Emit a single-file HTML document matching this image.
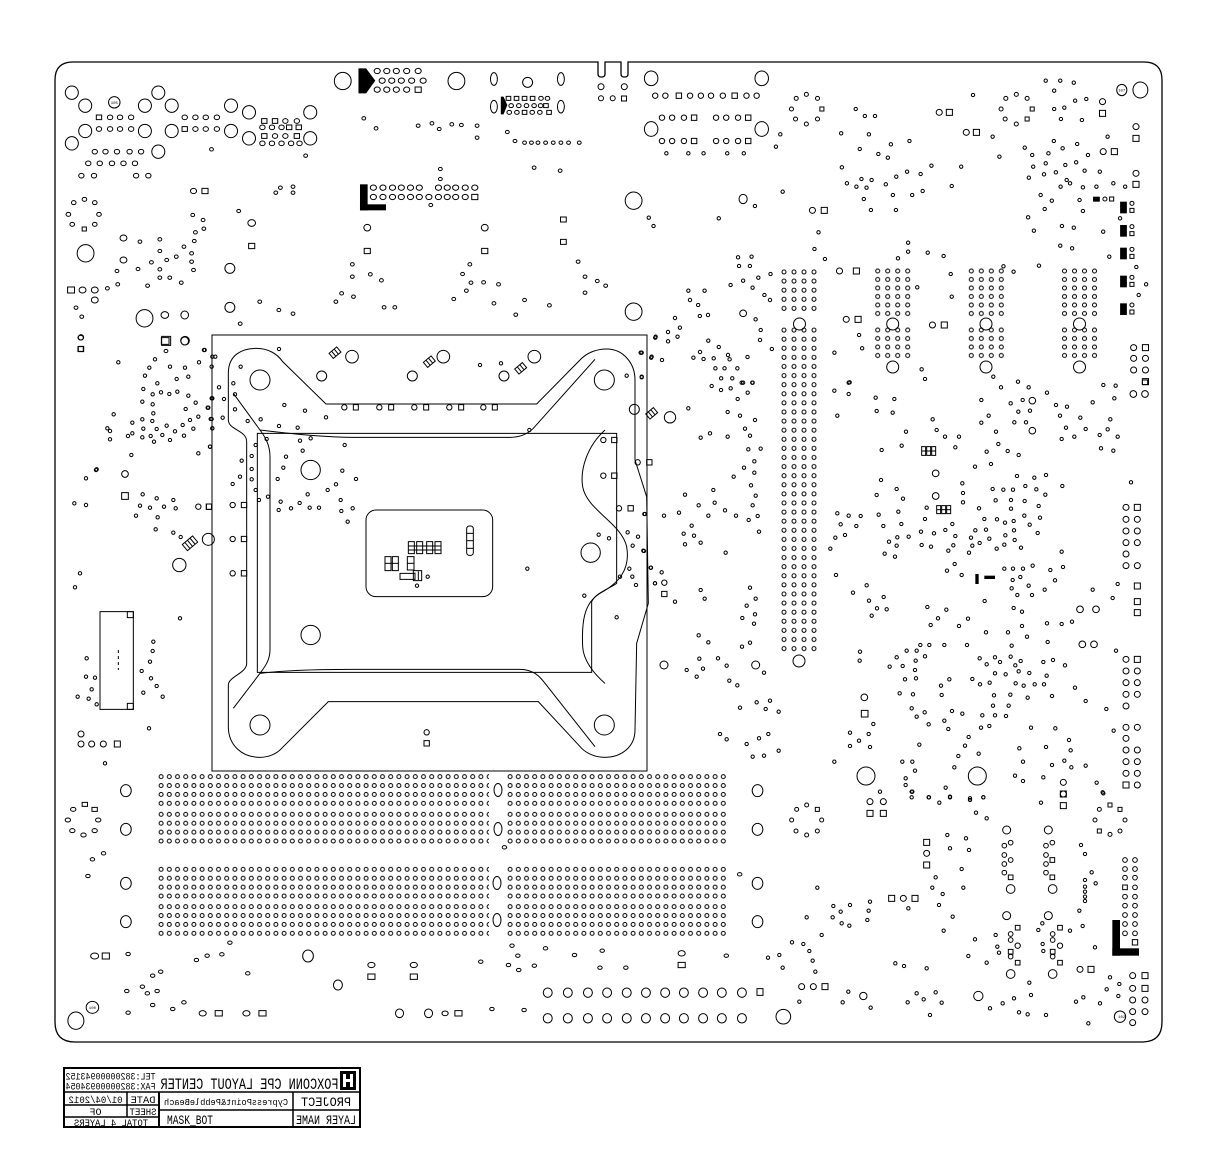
<!DOCTYPE html>
<html><head><meta charset="utf-8">
<style>
html,body{margin:0;padding:0;background:#fff}
svg{display:block}
svg *{vector-effect:non-scaling-stroke}
.k{fill:none;stroke:#000;stroke-width:1}
.k .f{fill:#000;stroke:none}
.k text{stroke:none;fill:#000;font-family:"Liberation Mono",monospace}
</style></head><body>
<svg width="1228" height="1169" viewBox="0 0 1228 1169" xmlns="http://www.w3.org/2000/svg">
<defs>
<pattern id="dm" patternUnits="userSpaceOnUse" width="8.2" height="8.9"><circle cx="4.1" cy="4.45" r="2" fill="none" stroke="#000" stroke-width="1"/></pattern>
<pattern id="cn" patternUnits="userSpaceOnUse" width="10" height="9.1"><circle cx="5" cy="4.55" r="2" fill="none" stroke="#000" stroke-width="1"/></pattern>
<pattern id="cm" patternUnits="userSpaceOnUse" width="10" height="8.5"><circle cx="5" cy="4.25" r="2" fill="none" stroke="#000" stroke-width="1"/></pattern>
</defs>
<rect width="1228" height="1169" fill="#fff"/>
<g class="k">
<!-- board outline -->
<path stroke-width="1.3" d="M55,80 Q55,62 73,62 L598,62 L598,74 Q598,77 601,77 L602,77 Q605,77 605,74 L605,62 L621,62 L621,74 Q621,77 624,77 L625,77 Q628,77 628,74 L628,62 L1144,62 Q1162,62 1162,80 L1162,1022 Q1162,1042 1142,1042 L75,1042 Q55,1042 55,1022 Z"/>
<!-- socket outer -->
<rect x="212" y="335" width="435" height="436"/>

<!-- DIMM slots -->
<g transform="translate(157,772.2)"><rect width="332" height="35.6" fill="url(#dm)" stroke="none"/></g>
<g transform="translate(506,772.2)"><rect width="221.4" height="35.6" fill="url(#dm)" stroke="none"/></g>
<g transform="translate(157,809.9)"><rect width="332" height="35.6" fill="url(#dm)" stroke="none"/></g>
<g transform="translate(506,809.9)"><rect width="221.4" height="35.6" fill="url(#dm)" stroke="none"/></g>
<g transform="translate(157,864.9)"><rect width="332" height="35.6" fill="url(#dm)" stroke="none"/></g>
<g transform="translate(506,864.9)"><rect width="221.4" height="35.6" fill="url(#dm)" stroke="none"/></g>
<g transform="translate(157,902.2)"><rect width="332" height="35.6" fill="url(#dm)" stroke="none"/></g>
<g transform="translate(506,902.2)"><rect width="221.4" height="35.6" fill="url(#dm)" stroke="none"/></g>
<ellipse cx="498" cy="790" rx="4" ry="6.5"/><ellipse cx="498" cy="829" rx="4" ry="6.5"/><ellipse cx="497" cy="883" rx="4" ry="6.5"/><ellipse cx="497" cy="920" rx="4" ry="6.5"/>

<!-- vertical strip connector -->
<g transform="translate(779,267.4)"><rect width="40" height="45.5" fill="url(#cn)" stroke="none"/></g>
<g transform="translate(779,325.5)"><rect width="40" height="327.6" fill="url(#cn)" stroke="none"/></g>
<circle cx="799.5" cy="324" r="6"/><circle cx="799" cy="661" r="6"/>
<!-- small arrays -->
<g transform="translate(872.7,266.75)"><rect width="40" height="51" fill="url(#cm)" stroke="none"/></g>
<g transform="translate(872.7,325.75)"><rect width="40" height="34" fill="url(#cm)" stroke="none"/></g>
<g transform="translate(966.3,266.75)"><rect width="40" height="51" fill="url(#cm)" stroke="none"/></g>
<g transform="translate(966.3,325.75)"><rect width="40" height="34" fill="url(#cm)" stroke="none"/></g>
<g transform="translate(1059.5,266.75)"><rect width="40" height="51" fill="url(#cm)" stroke="none"/></g>
<g transform="translate(1059.5,325.75)"><rect width="40" height="34" fill="url(#cm)" stroke="none"/></g>
<circle cx="892.7" cy="324" r="6"/><circle cx="892.7" cy="367" r="6"/>
<circle cx="986" cy="324" r="6"/><circle cx="986" cy="367" r="6"/>
<circle cx="1079.5" cy="324" r="6"/><circle cx="1079.5" cy="367" r="6"/>

<!-- ZOOM 2: socket region -->
<g transform="translate(200,330) scale(0.33333)">
<path d="M85,270 L85,130 C85,75 125,55 170,55 C205,55 232,72 248,95 L378,222 L1010,222 L1140,90 C1160,68 1190,57 1220,57 C1270,57 1305,100 1305,150 L1305,390 L1340,500 L1345,820 L1310,940 L1305,1200 C1305,1250 1265,1282 1215,1282 C1185,1282 1160,1270 1145,1255 L1015,1115 L385,1115 L245,1255 C230,1272 205,1282 180,1282 C125,1282 85,1245 85,1190 L85,1065 C85,1040 140,1030 140,1000 L140,335 C140,300 85,300 85,270 Z"/>
<path d="M100,190 L180,300 C195,320 210,345 210,380 L210,960 C210,990 195,1010 180,1030 L100,1135"/>
<path d="M180,300 C260,310 380,322 460,322 L930,322 C965,322 985,310 1000,295 L1185,88"/>
<path d="M180,1030 C260,1020 380,1018 450,1018 L960,1018 C1000,1018 1020,1040 1035,1060 L1185,1250"/>
<path d="M1215,300 C1160,350 1140,420 1148,470 C1160,540 1265,580 1280,650 C1292,720 1255,760 1200,790 C1150,820 1145,880 1148,950 C1150,990 1180,1030 1215,1060"/>
<path d="M172,310 L1250,310 L1250,760 C1230,775 1185,790 1175,815 L1175,1027 L172,1027 Z"/>
<rect x="498" y="540" width="380" height="260" rx="30"/>
<circle cx="180" cy="150" r="30"/><circle cx="1213" cy="150" r="30"/><circle cx="180" cy="1185" r="30"/><circle cx="1213" cy="1185" r="30"/>
<circle cx="332" cy="420" r="29"/><circle cx="332" cy="915" r="29"/><circle cx="1172" cy="668" r="29"/>
<circle cx="456" cy="80" r="19"/><circle cx="730" cy="80" r="19"/><circle cx="1003" cy="80" r="19"/>
<circle cx="365" cy="138" r="15"/><circle cx="637" cy="138" r="15"/><circle cx="912" cy="138" r="15"/><circle cx="1303" cy="238" r="15"/>
<circle cx="433" cy="232" r="8"/><rect x="460" y="224" width="15" height="16"/><circle cx="538" cy="232" r="8"/><rect x="566" y="224" width="15" height="16"/><circle cx="643" cy="232" r="8"/><rect x="671" y="224" width="15" height="16"/><circle cx="748" cy="232" r="8"/><rect x="776" y="224" width="15" height="16"/><circle cx="850" cy="232" r="8"/><rect x="877" y="224" width="15" height="16"/>
<circle cx="1210" cy="330" r="8"/><rect x="1235" y="322" width="16" height="16"/><circle cx="1210" cy="437" r="8"/><rect x="1235" y="429" width="16" height="16"/>
<circle cx="1313" cy="397" r="8"/><rect x="1340" y="389" width="16" height="16"/><circle cx="1257" cy="535" r="8"/><rect x="1284" y="527" width="16" height="16"/>
<circle cx="98" cy="525" r="8"/><rect x="124" y="517" width="16" height="16"/><circle cx="98" cy="627" r="8"/><rect x="124" y="619" width="16" height="16"/><circle cx="98" cy="730" r="8"/><rect x="124" y="722" width="16" height="16"/>
<rect x="19" y="522" width="16" height="16"/>
<circle cx="680" cy="1207" r="8"/><rect x="672" y="1232" width="16" height="16"/>
<g stroke-width="1"><rect x="625" y="635" width="18" height="36"/><rect x="650" y="635" width="18" height="36"/><rect x="680" y="635" width="18" height="36"/><rect x="705" y="635" width="18" height="36"/>
<line x1="625" y1="648" x2="723" y2="648"/><line x1="625" y1="660" x2="723" y2="660"/>
<rect x="555" y="680" width="18" height="42"/><rect x="577" y="680" width="18" height="42"/><line x1="555" y1="700" x2="595" y2="700"/>
<rect x="622" y="680" width="20" height="40"/><line x1="622" y1="700" x2="642" y2="700"/>
<rect x="600" y="730" width="45" height="18"/><rect x="640" y="722" width="25" height="30"/><line x1="645" y1="728" x2="645" y2="750"/><line x1="655" y1="724" x2="655" y2="750"/>
<rect x="800" y="588" width="20" height="88" rx="8"/><line x1="800" y1="610" x2="820" y2="610"/><line x1="800" y1="632" x2="820" y2="632"/><line x1="800" y1="655" x2="820" y2="655"/>
<g transform="rotate(-40 405 68)"><rect x="390" y="58" width="30" height="20"/><line x1="400" y1="58" x2="400" y2="78"/><line x1="410" y1="58" x2="410" y2="78"/></g>
<g transform="rotate(-40 688 95)"><rect x="673" y="85" width="30" height="20"/><line x1="683" y1="85" x2="683" y2="105"/><line x1="693" y1="85" x2="693" y2="105"/></g>
<g transform="rotate(-40 962 115)"><rect x="947" y="105" width="30" height="20"/><line x1="957" y1="105" x2="957" y2="125"/><line x1="967" y1="105" x2="967" y2="125"/></g>
<g transform="rotate(-40 1355 250)"><rect x="1340" y="240" width="30" height="20"/><line x1="1350" y1="240" x2="1350" y2="260"/><line x1="1360" y1="240" x2="1360" y2="260"/></g></g>
<circle cx="237" cy="57" r="5"/><circle cx="122" cy="110" r="5"/><circle cx="100" cy="160" r="5"/><circle cx="105" cy="193" r="5"/><circle cx="57" cy="172" r="5"/><circle cx="37" cy="205" r="5"/><circle cx="72" cy="207" r="5"/><circle cx="105" cy="238" r="5"/><circle cx="25" cy="233" r="5"/><circle cx="32" cy="267" r="5"/><circle cx="68" cy="263" r="5"/><circle cx="37" cy="295" r="5"/><circle cx="143" cy="273" r="5"/><circle cx="182" cy="268" r="5"/><circle cx="237" cy="288" r="5"/><circle cx="293" cy="293" r="5"/><circle cx="253" cy="225" r="5"/><circle cx="315" cy="242" r="5"/><circle cx="378" cy="262" r="5"/><circle cx="300" cy="332" r="5"/><circle cx="332" cy="325" r="5"/><circle cx="308" cy="362" r="5"/><circle cx="258" cy="380" r="5"/><circle cx="250" cy="413" r="5"/><circle cx="233" cy="447" r="5"/><circle cx="200" cy="327" r="5"/><circle cx="167" cy="345" r="5"/><circle cx="155" cy="378" r="5"/><circle cx="125" cy="392" r="5"/><circle cx="155" cy="417" r="5"/><circle cx="155" cy="448" r="5"/><circle cx="120" cy="440" r="5"/><circle cx="98" cy="462" r="5"/><circle cx="167" cy="480" r="5"/><circle cx="177" cy="510" r="5"/><circle cx="204" cy="500" r="5"/><circle cx="242" cy="515" r="5"/><circle cx="236" cy="540" r="5"/><circle cx="273" cy="535" r="5"/><circle cx="299" cy="519" r="5"/><circle cx="323" cy="493" r="5"/><circle cx="329" cy="533" r="5"/><circle cx="357" cy="533" r="5"/><circle cx="383" cy="480" r="5"/><circle cx="408" cy="463" r="5"/><circle cx="427" cy="422" r="5"/><circle cx="468" cy="447" r="5"/><circle cx="422" cy="510" r="5"/><circle cx="424" cy="543" r="5"/><circle cx="458" cy="535" r="5"/><circle cx="443" cy="575" r="5"/><circle cx="434" cy="345" r="5"/><circle cx="30" cy="350" r="5"/><circle cx="840" cy="105" r="5"/><circle cx="903" cy="100" r="5"/><circle cx="988" cy="300" r="5"/><circle cx="1280" cy="137" r="5"/><circle cx="1322" cy="68" r="5"/><circle cx="1325" cy="142" r="5"/><circle cx="1355" cy="80" r="5"/><circle cx="1367" cy="20" r="5"/><circle cx="1335" cy="552" r="5"/><circle cx="1283" cy="607" r="5"/><circle cx="1314" cy="620" r="5"/><circle cx="1298" cy="647" r="5"/><circle cx="1330" cy="662" r="5"/><circle cx="1288" cy="716" r="5"/><circle cx="1352" cy="713" r="5"/><circle cx="1297" cy="740" r="5"/><circle cx="1308" cy="765" r="5"/><circle cx="1365" cy="760" r="5"/><circle cx="1260" cy="740" r="5"/><circle cx="1196" cy="614" r="5"/><circle cx="1227" cy="625" r="5"/><circle cx="1153" cy="797" r="5"/><circle cx="1250" cy="862" r="5"/><circle cx="982" cy="716" r="5"/><circle cx="683" cy="740" r="5"/><circle cx="651" cy="767" r="5"/><circle cx="14" cy="60" r="5"/><circle cx="46" cy="80" r="5"/>
</g>

<!-- ZOOM 3: top-left -->
<g transform="translate(50,55) scale(0.3827,0.33333)">
<ellipse cx="57" cy="113" rx="17" ry="20"/><ellipse cx="92" cy="152" rx="17" ry="20"/><ellipse cx="57" cy="265" rx="17" ry="20"/><ellipse cx="92" cy="228" rx="17" ry="20"/><ellipse cx="248" cy="152" rx="17" ry="20"/><ellipse cx="283" cy="113" rx="17" ry="20"/><ellipse cx="318" cy="152" rx="17" ry="20"/><ellipse cx="248" cy="228" rx="17" ry="20"/><ellipse cx="318" cy="228" rx="17" ry="20"/><ellipse cx="283" cy="290" rx="17" ry="20"/><ellipse cx="473" cy="152" rx="17" ry="20"/><ellipse cx="520" cy="172" rx="17" ry="20"/><ellipse cx="473" cy="228" rx="17" ry="20"/><ellipse cx="520" cy="250" rx="17" ry="20"/><ellipse cx="680" cy="172" rx="17" ry="20"/><ellipse cx="680" cy="250" rx="17" ry="20"/>
<ellipse cx="765" cy="78" rx="22" ry="26"/><ellipse cx="1062" cy="78" rx="22" ry="26"/><ellipse cx="1525" cy="437" rx="22" ry="26"/><ellipse cx="1525" cy="770" rx="22" ry="26"/><ellipse cx="93" cy="595" rx="22" ry="26"/><ellipse cx="247" cy="790" rx="22" ry="26"/>
<ellipse cx="470" cy="640" rx="13" ry="15"/><ellipse cx="470" cy="757" rx="13" ry="15"/><ellipse cx="1248" cy="82" rx="13" ry="15"/><ellipse cx="527" cy="504" rx="10" ry="10"/><ellipse cx="829" cy="518" rx="9" ry="10"/><ellipse cx="1136" cy="518" rx="9" ry="10"/><ellipse cx="192" cy="549" rx="9" ry="9"/><ellipse cx="192" cy="615" rx="9" ry="9"/><ellipse cx="352" cy="780" rx="10" ry="12"/><ellipse cx="300" cy="780" rx="10" ry="10"/><ellipse cx="352" cy="858" rx="10" ry="12"/>
<ellipse cx="168" cy="142" rx="15" ry="17"/>
<ellipse cx="1160" cy="72" rx="9" ry="19"/><ellipse cx="1335" cy="72" rx="9" ry="19"/><ellipse cx="1160" cy="155" rx="9" ry="19"/><ellipse cx="1335" cy="155" rx="9" ry="19"/>
<polygon class="f" points="806,40 826,40 850,77 826,115 806,115"/>
<polygon class="f" points="1178,125 1185,125 1195,150 1185,178 1178,178"/>
<rect class="f" x="810" y="388" width="20" height="78"/><rect class="f" x="810" y="448" width="68" height="18"/>
<rect x="121" y="180" width="14" height="14"/><circle cx="157" cy="187" r="7"/><circle cx="183" cy="187" r="7"/><circle cx="212" cy="187" r="7"/><circle cx="352" cy="187" r="7"/><circle cx="380" cy="187" r="7"/><circle cx="407" cy="187" r="7"/><circle cx="436" cy="187" r="7"/>
<circle cx="128" cy="222" r="7"/><circle cx="157" cy="222" r="7"/><circle cx="183" cy="222" r="7"/><circle cx="212" cy="222" r="7"/><rect x="345" y="215" width="14" height="14"/><circle cx="380" cy="222" r="7"/><circle cx="407" cy="222" r="7"/><circle cx="436" cy="222" r="7"/>
<circle cx="117" cy="290" r="7"/><circle cx="145" cy="290" r="7"/><circle cx="175" cy="290" r="7"/><circle cx="208" cy="290" r="7"/><circle cx="238" cy="290" r="7"/>
<circle cx="100" cy="325" r="7"/><circle cx="130" cy="325" r="7"/><circle cx="162" cy="325" r="7"/><circle cx="192" cy="325" r="7"/><circle cx="222" cy="325" r="7"/>
<circle cx="82" cy="362" r="7"/><circle cx="115" cy="362" r="7"/><circle cx="225" cy="362" r="7"/><circle cx="257" cy="362" r="7"/>
<rect x="553" y="191" width="14" height="14"/><rect x="581" y="191" width="14" height="14"/><circle cx="615" cy="198" r="7"/><circle cx="645" cy="198" r="7"/>
<circle cx="555" cy="217" r="7"/><circle cx="580" cy="217" r="7"/><circle cx="605" cy="217" r="7"/><rect x="618" y="210" width="14" height="14"/><rect x="643" y="210" width="14" height="14"/>
<rect x="553" y="236" width="14" height="14"/><circle cx="588" cy="243" r="7"/><circle cx="615" cy="243" r="7"/><rect x="638" y="236" width="14" height="14"/>
<circle cx="555" cy="265" r="7"/><circle cx="580" cy="265" r="7"/><circle cx="605" cy="265" r="7"/><circle cx="630" cy="265" r="7"/><circle cx="652" cy="265" r="7"/>
<circle cx="855" cy="48" r="8"/><circle cx="880" cy="48" r="8"/><circle cx="905" cy="48" r="8"/><circle cx="932" cy="48" r="8"/><circle cx="962" cy="48" r="8"/>
<circle cx="868" cy="77" r="8"/><circle cx="893" cy="77" r="8"/><circle cx="918" cy="77" r="8"/><circle cx="945" cy="77" r="8"/><circle cx="975" cy="77" r="8"/>
<circle cx="855" cy="104" r="8"/><circle cx="880" cy="104" r="8"/><circle cx="905" cy="104" r="8"/><circle cx="932" cy="104" r="8"/><rect x="954" y="96" width="16" height="16"/>
<rect x="1192" y="124" width="12" height="12"/><rect x="1213" y="124" width="12" height="12"/><rect x="1234" y="124" width="12" height="12"/><rect x="1255" y="124" width="12" height="12"/><circle cx="1283" cy="130" r="6"/><circle cx="1300" cy="130" r="6"/>
<circle cx="1205" cy="152" r="6"/><circle cx="1225" cy="152" r="6"/><circle cx="1245" cy="152" r="6"/><circle cx="1265" cy="152" r="6"/><circle cx="1282" cy="152" r="6"/><rect x="1290" y="146" width="12" height="12"/>
<circle cx="1200" cy="172" r="6"/><circle cx="1220" cy="172" r="6"/><rect x="1234" y="166" width="12" height="12"/><circle cx="1260" cy="172" r="6"/><circle cx="1280" cy="172" r="6"/><rect x="1298" y="166" width="12" height="12"/>
<circle cx="845" cy="398" r="8"/><circle cx="870" cy="398" r="8"/><circle cx="895" cy="398" r="8"/><circle cx="918" cy="398" r="8"/><circle cx="942" cy="398" r="8"/><circle cx="965" cy="398" r="8"/><circle cx="1015" cy="398" r="8"/><circle cx="1038" cy="398" r="8"/><circle cx="1060" cy="398" r="8"/><circle cx="1085" cy="398" r="8"/><circle cx="1110" cy="398" r="8"/>
<circle cx="845" cy="426" r="8"/><circle cx="870" cy="426" r="8"/><circle cx="895" cy="426" r="8"/><circle cx="918" cy="426" r="8"/><circle cx="942" cy="426" r="8"/><circle cx="965" cy="426" r="8"/><circle cx="990" cy="426" r="8"/><circle cx="1015" cy="426" r="8"/><circle cx="1038" cy="426" r="8"/><circle cx="1060" cy="426" r="8"/><circle cx="1085" cy="426" r="8"/><rect x="1102" y="418" width="16" height="16"/>
<circle cx="375" cy="408" r="8"/><rect x="397" y="400" width="16" height="16"/>
<rect x="1334" y="486" width="15" height="15"/><rect x="1334" y="553" width="15" height="15"/><rect x="519" y="565" width="16" height="16"/><rect x="821" y="580" width="16" height="16"/><rect x="1128" y="580" width="16" height="16"/>
<rect x="46" y="696" width="18" height="18"/><circle cx="85" cy="705" r="9"/><circle cx="117" cy="705" r="9"/><circle cx="117" cy="735" r="9"/>
<rect x="291" y="848" width="20" height="20"/><circle cx="80" cy="848" r="7"/><rect x="73" y="875" width="14" height="14"/>
<circle cx="62" cy="443" r="6"/><circle cx="90" cy="433" r="6"/><circle cx="117" cy="443" r="6"/><circle cx="128" cy="478" r="6"/><circle cx="117" cy="508" r="6"/><rect x="84" y="516" width="11" height="12"/><circle cx="58" cy="508" r="6"/><circle cx="48" cy="478" r="6"/>
<circle cx="820" cy="190" r="5"/><circle cx="852" cy="220" r="5"/><circle cx="962" cy="212" r="5"/><circle cx="998" cy="205" r="5"/><circle cx="1017" cy="222" r="5"/><circle cx="1050" cy="208" r="5"/><circle cx="1075" cy="210" r="5"/><circle cx="1116" cy="212" r="5"/><circle cx="1116" cy="248" r="5"/><circle cx="1195" cy="231" r="5"/><circle cx="1215" cy="258" r="5"/><circle cx="1240" cy="263" r="5"/><circle cx="1258" cy="263" r="5"/><circle cx="1275" cy="263" r="5"/><circle cx="1295" cy="263" r="5"/><circle cx="1315" cy="263" r="5"/><circle cx="1335" cy="263" r="5"/><circle cx="1355" cy="263" r="5"/><circle cx="1383" cy="263" r="5"/><circle cx="1265" cy="338" r="5"/><circle cx="1333" cy="347" r="5"/><circle cx="422" cy="283" r="5"/><circle cx="668" cy="302" r="5"/><circle cx="602" cy="398" r="5"/><circle cx="590" cy="413" r="5"/><circle cx="635" cy="395" r="5"/><circle cx="635" cy="413" r="5"/><circle cx="995" cy="450" r="5"/><circle cx="1020" cy="342" r="5"/><circle cx="1020" cy="372" r="5"/>
<circle cx="493" cy="468" r="5"/><circle cx="373" cy="480" r="5"/><circle cx="400" cy="495" r="5"/><circle cx="380" cy="532" r="5"/><circle cx="402" cy="521" r="5"/><circle cx="377" cy="558" r="5"/><circle cx="350" cy="575" r="5"/><circle cx="370" cy="595" r="5"/><circle cx="370" cy="620" r="5"/><circle cx="375" cy="645" r="5"/><circle cx="330" cy="605" r="5"/><circle cx="305" cy="615" r="5"/><circle cx="265" cy="622" r="5"/><circle cx="287" cy="588" r="5"/><circle cx="287" cy="553" r="5"/><circle cx="235" cy="560" r="5"/><circle cx="230" cy="642" r="5"/><circle cx="175" cy="648" r="5"/><circle cx="177" cy="688" r="5"/><circle cx="150" cy="700" r="5"/><circle cx="287" cy="643" r="5"/><circle cx="287" cy="668" r="5"/><circle cx="313" cy="668" r="5"/><circle cx="343" cy="683" r="5"/><circle cx="255" cy="692" r="5"/><circle cx="68" cy="758" r="5"/><circle cx="83" cy="785" r="5"/><circle cx="548" cy="740" r="5"/><circle cx="598" cy="765" r="5"/><circle cx="635" cy="776" r="5"/><circle cx="497" cy="806" r="5"/><circle cx="790" cy="628" r="5"/><circle cx="790" cy="665" r="5"/><circle cx="837" cy="658" r="5"/><circle cx="866" cy="676" r="5"/><circle cx="762" cy="715" r="5"/><circle cx="747" cy="740" r="5"/><circle cx="793" cy="725" r="5"/><circle cx="873" cy="757" r="5"/><circle cx="901" cy="757" r="5"/><circle cx="1097" cy="628" r="5"/><circle cx="1078" cy="657" r="5"/><circle cx="1100" cy="683" r="5"/><circle cx="1133" cy="682" r="5"/><circle cx="1172" cy="688" r="5"/><circle cx="1088" cy="707" r="5"/><circle cx="1055" cy="732" r="5"/><circle cx="1160" cy="745" r="5"/><circle cx="1240" cy="735" r="5"/><circle cx="1217" cy="779" r="5"/><circle cx="1305" cy="751" r="5"/><circle cx="1380" cy="620" r="5"/><circle cx="1398" cy="665" r="5"/><circle cx="1430" cy="678" r="5"/><circle cx="1452" cy="692" r="5"/><circle cx="1398" cy="713" r="5"/><circle cx="303" cy="888" r="5"/><circle cx="403" cy="885" r="5"/>
</g>
<text x="114.3" y="104" font-size="4" text-anchor="middle">105</text>

<!-- ZOOM 4: top-right -->
<g transform="translate(640,55) scale(0.3381,0.33333)">
<ellipse cx="33" cy="70" rx="20" ry="22"/><ellipse cx="360" cy="70" rx="20" ry="22"/><ellipse cx="33" cy="222" rx="20" ry="22"/><ellipse cx="360" cy="222" rx="20" ry="22"/><ellipse cx="1480" cy="105" rx="22" ry="24"/><ellipse cx="1425" cy="105" rx="15" ry="17"/>
<circle cx="45" cy="122" r="8"/><circle cx="75" cy="122" r="8"/><rect x="107" y="114" width="16" height="16"/><circle cx="148" cy="122" r="8"/><circle cx="180" cy="122" r="8"/><circle cx="210" cy="122" r="8"/><circle cx="245" cy="122" r="8"/><rect x="272" y="114" width="16" height="16"/><circle cx="315" cy="122" r="8"/><circle cx="345" cy="122" r="8"/>
<circle cx="65" cy="188" r="8"/><circle cx="95" cy="188" r="8"/><circle cx="130" cy="188" r="8"/><rect x="152" y="180" width="16" height="16"/><circle cx="225" cy="188" r="8"/><circle cx="255" cy="188" r="8"/><circle cx="290" cy="188" r="8"/><rect x="312" y="180" width="16" height="16"/>
<circle cx="65" cy="258" r="8"/><circle cx="95" cy="258" r="8"/><circle cx="130" cy="258" r="8"/><rect x="152" y="250" width="16" height="16"/><circle cx="225" cy="258" r="8"/><circle cx="255" cy="258" r="8"/><circle cx="290" cy="258" r="8"/><rect x="312" y="250" width="16" height="16"/>
<circle cx="78" cy="295" r="5"/><circle cx="143" cy="295" r="5"/><circle cx="188" cy="295" r="5"/><circle cx="258" cy="295" r="5"/><circle cx="307" cy="295" r="5"/>
<circle cx="462" cy="130" r="6"/><circle cx="492" cy="118" r="6"/><circle cx="525" cy="130" r="6"/><rect x="532" y="156" width="12" height="12"/><circle cx="525" cy="192" r="6"/><circle cx="492" cy="207" r="6"/><circle cx="460" cy="192" r="6"/><circle cx="448" cy="162" r="6"/>
<circle cx="1082" cy="130" r="6"/><circle cx="1113" cy="118" r="6"/><circle cx="1145" cy="130" r="6"/><rect x="1154" y="156" width="12" height="12"/><rect x="1139" y="186" width="12" height="12"/><circle cx="1113" cy="207" r="6"/><circle cx="1080" cy="192" r="6"/><circle cx="1068" cy="162" r="6"/>
<circle cx="885" cy="172" r="9"/><rect x="906" y="163" width="18" height="18"/><circle cx="965" cy="232" r="9"/><rect x="986" y="223" width="18" height="18"/>
<circle cx="1368" cy="140" r="9"/><rect x="1359" y="166" width="18" height="18"/><circle cx="1370" cy="290" r="9"/><rect x="1394" y="281" width="18" height="18"/>
<circle cx="1467" cy="215" r="9"/><rect x="1458" y="241" width="18" height="18"/><circle cx="1467" cy="355" r="9"/><rect x="1458" y="379" width="18" height="18"/>
<circle cx="510" cy="466" r="9"/><rect x="536" y="457" width="18" height="18"/><circle cx="590" cy="648" r="9"/><rect x="631" y="639" width="18" height="18"/><circle cx="610" cy="793" r="9"/><rect x="636" y="784" width="18" height="18"/><circle cx="865" cy="810" r="9"/><rect x="891" y="801" width="18" height="18"/>
<ellipse cx="305" cy="432" rx="12" ry="14"/><ellipse cx="305" cy="775" rx="10" ry="10"/>
<circle cx="1460" cy="878" r="9"/><rect x="1486" y="869" width="18" height="18"/><circle cx="1460" cy="910" r="9"/><circle cx="1495" cy="910" r="9"/><circle cx="1460" cy="945" r="9"/><circle cx="1495" cy="945" r="9"/><rect x="1486" y="971" width="18" height="18"/>
<rect class="f" x="1420" y="440" width="20" height="35"/><rect class="f" x="1420" y="510" width="20" height="35"/><rect class="f" x="1420" y="578" width="20" height="35"/><rect class="f" x="1420" y="662" width="20" height="35"/><rect class="f" x="1420" y="745" width="20" height="35"/>
<circle cx="1455" cy="445" r="6"/><rect x="1449" y="460" width="12" height="12"/><circle cx="1455" cy="515" r="6"/><rect x="1449" y="530" width="12" height="12"/><circle cx="1455" cy="583" r="6"/><rect x="1449" y="598" width="12" height="12"/><circle cx="1455" cy="667" r="6"/><rect x="1449" y="682" width="12" height="12"/><circle cx="1455" cy="750" r="6"/><rect x="1449" y="765" width="12" height="12"/>
<rect class="f" x="1340" y="425" width="20" height="15"/><circle cx="1375" cy="432" r="6"/><rect x="1389" y="426" width="12" height="12"/>
<circle cx="985" cy="120" r="5"/><circle cx="1200" cy="77" r="5"/><circle cx="1243" cy="77" r="5"/><circle cx="1283" cy="83" r="5"/><circle cx="1225" cy="107" r="5"/><circle cx="1287" cy="137" r="5"/><circle cx="1320" cy="132" r="5"/><circle cx="1225" cy="162" r="5"/><circle cx="1255" cy="158" r="5"/><circle cx="1245" cy="192" r="5"/><circle cx="1307" cy="195" r="5"/><circle cx="1383" cy="245" r="5"/><circle cx="1224" cy="258" r="5"/><circle cx="1250" cy="280" r="5"/><circle cx="1293" cy="267" r="5"/><circle cx="1325" cy="300" r="5"/><circle cx="1138" cy="278" r="5"/><circle cx="1160" cy="300" r="5"/><circle cx="1208" cy="295" r="5"/><circle cx="1063" cy="305" r="5"/><circle cx="1043" cy="245" r="5"/><circle cx="1163" cy="335" r="5"/><circle cx="1200" cy="325" r="5"/><circle cx="1258" cy="330" r="5"/><circle cx="1290" cy="322" r="5"/><circle cx="1150" cy="368" r="5"/><circle cx="1195" cy="358" r="5"/><circle cx="1230" cy="352" r="5"/><circle cx="1315" cy="347" r="5"/><circle cx="1360" cy="350" r="5"/><circle cx="1244" cy="395" r="5"/><circle cx="1262" cy="375" r="5"/><circle cx="1272" cy="385" r="5"/><circle cx="1310" cy="397" r="5"/><circle cx="1350" cy="395" r="5"/><circle cx="1400" cy="385" r="5"/><circle cx="1435" cy="395" r="5"/><circle cx="1185" cy="420" r="5"/><circle cx="1218" cy="437" r="5"/><circle cx="1300" cy="435" r="5"/><circle cx="1197" cy="462" r="5"/><circle cx="1148" cy="487" r="5"/><circle cx="1310" cy="468" r="5"/><circle cx="1165" cy="527" r="5"/><circle cx="1248" cy="513" r="5"/><circle cx="1283" cy="518" r="5"/><circle cx="1370" cy="530" r="5"/><circle cx="1243" cy="572" r="5"/><circle cx="1278" cy="580" r="5"/><circle cx="1388" cy="605" r="5"/><circle cx="1420" cy="490" r="5"/><circle cx="1468" cy="636" r="5"/><circle cx="1497" cy="688" r="5"/><circle cx="1475" cy="720" r="5"/><circle cx="1105" cy="650" r="5"/><circle cx="1180" cy="632" r="5"/><circle cx="1075" cy="634" r="5"/>
<circle cx="638" cy="162" r="5"/><circle cx="665" cy="183" r="5"/><circle cx="695" cy="183" r="5"/><circle cx="595" cy="235" r="5"/><circle cx="677" cy="238" r="5"/><circle cx="650" cy="282" r="5"/><circle cx="705" cy="297" r="5"/><circle cx="733" cy="308" r="5"/><circle cx="742" cy="268" r="5"/><circle cx="797" cy="258" r="5"/><circle cx="415" cy="238" r="5"/><circle cx="402" cy="275" r="5"/><circle cx="597" cy="337" r="5"/><circle cx="862" cy="332" r="5"/><circle cx="950" cy="335" r="5"/><circle cx="830" cy="357" r="5"/><circle cx="790" cy="350" r="5"/><circle cx="758" cy="365" r="5"/><circle cx="727" cy="388" r="5"/><circle cx="685" cy="375" r="5"/><circle cx="655" cy="372" r="5"/><circle cx="640" cy="395" r="5"/><circle cx="612" cy="385" r="5"/><circle cx="670" cy="398" r="5"/><circle cx="662" cy="432" r="5"/><circle cx="748" cy="420" r="5"/><circle cx="805" cy="420" r="5"/><circle cx="836" cy="408" r="5"/><circle cx="683" cy="465" r="5"/><circle cx="757" cy="465" r="5"/><circle cx="922" cy="393" r="5"/><circle cx="422" cy="410" r="5"/><circle cx="528" cy="532" r="5"/><circle cx="516" cy="582" r="5"/><circle cx="547" cy="612" r="5"/><circle cx="793" cy="563" r="5"/><circle cx="793" cy="590" r="5"/><circle cx="763" cy="610" r="5"/><circle cx="851" cy="593" r="5"/><circle cx="898" cy="603" r="5"/><circle cx="919" cy="657" r="5"/><circle cx="922" cy="725" r="5"/><circle cx="820" cy="697" r="5"/><circle cx="1045" cy="965" r="5"/><circle cx="1118" cy="980" r="5"/><circle cx="833" cy="943" r="5"/><circle cx="843" cy="972" r="5"/><circle cx="620" cy="982" r="5"/>
<circle cx="340" cy="453" r="5"/><circle cx="26" cy="488" r="5"/><circle cx="40" cy="513" r="5"/><circle cx="233" cy="490" r="5"/><circle cx="290" cy="607" r="5"/><circle cx="330" cy="605" r="5"/><circle cx="293" cy="633" r="5"/><circle cx="325" cy="633" r="5"/><circle cx="386" cy="657" r="5"/><circle cx="350" cy="668" r="5"/><circle cx="305" cy="677" r="5"/><circle cx="268" cy="690" r="5"/><circle cx="333" cy="698" r="5"/><circle cx="368" cy="720" r="5"/><circle cx="143" cy="707" r="5"/><circle cx="191" cy="707" r="5"/><circle cx="172" cy="750" r="5"/><circle cx="177" cy="783" r="5"/><circle cx="118" cy="818" r="5"/><circle cx="111" cy="845" r="5"/><circle cx="83" cy="859" r="5"/><circle cx="45" cy="848" r="5"/><circle cx="202" cy="857" r="5"/><circle cx="233" cy="876" r="5"/><circle cx="158" cy="908" r="5"/><circle cx="188" cy="912" r="5"/><circle cx="218" cy="910" r="5"/><circle cx="265" cy="913" r="5"/><circle cx="318" cy="906" r="5"/><circle cx="223" cy="940" r="5"/><circle cx="250" cy="940" r="5"/><circle cx="288" cy="940" r="5"/><circle cx="240" cy="970" r="5"/><circle cx="273" cy="970" r="5"/><circle cx="305" cy="983" r="5"/><circle cx="332" cy="983" r="5"/><circle cx="342" cy="793" r="5"/><circle cx="357" cy="825" r="5"/><circle cx="390" cy="882" r="5"/><circle cx="575" cy="893" r="5"/><circle cx="657" cy="880" r="5"/><circle cx="648" cy="840" r="5"/><circle cx="33" cy="908" r="5"/><circle cx="65" cy="915" r="5"/><circle cx="5" cy="893" r="5"/><circle cx="5" cy="965" r="5"/>
</g>
<text x="1121.7" y="91.5" font-size="4" text-anchor="middle">107</text>
<!-- notch area -->
<circle cx="601" cy="86.7" r="3"/><circle cx="624.3" cy="86.7" r="3"/><circle cx="601" cy="98.3" r="2.5"/><circle cx="612.7" cy="98.3" r="2.5"/><rect x="621.5" y="96" width="5" height="5"/>

<!-- ZOOM 6: right-middle -->
<g transform="translate(740,380) scale(0.33333)">
<circle cx="378" cy="1188" r="27"/><circle cx="712" cy="1188" r="27"/><circle cx="47" cy="855" r="12"/>
<circle cx="587" cy="280" r="10"/><circle cx="587" cy="348" r="10"/><circle cx="877" cy="62" r="10"/><circle cx="877" cy="152" r="10"/><circle cx="1180" cy="42" r="10"/><circle cx="1215" cy="42" r="10"/><circle cx="1020" cy="688" r="10"/><circle cx="1068" cy="688" r="10"/><circle cx="1027" cy="793" r="10"/><circle cx="1062" cy="793" r="10"/><circle cx="373" cy="952" r="10"/><rect x="364" y="991" width="20" height="20"/><circle cx="970" cy="1207" r="9"/><rect x="961" y="1233" width="18" height="18"/><rect x="1207" y="0" width="16" height="14"/>
<circle cx="1158" cy="382" r="9"/><rect x="1183" y="373" width="18" height="18"/><circle cx="1158" cy="418" r="9"/><circle cx="1192" cy="418" r="9"/><circle cx="1158" cy="453" r="9"/><circle cx="1192" cy="453" r="9"/><circle cx="1158" cy="488" r="9"/><circle cx="1192" cy="488" r="9"/><circle cx="1158" cy="522" r="9"/><circle cx="1158" cy="557" r="9"/><circle cx="1192" cy="557" r="9"/><rect x="1183" y="609" width="18" height="18"/><rect x="1183" y="656" width="18" height="18"/><rect x="1183" y="689" width="18" height="18"/>
<circle cx="1158" cy="838" r="9"/><rect x="1183" y="829" width="18" height="18"/><circle cx="1158" cy="873" r="9"/><circle cx="1192" cy="873" r="9"/><circle cx="1158" cy="908" r="9"/><circle cx="1192" cy="908" r="9"/><circle cx="1158" cy="943" r="9"/><circle cx="1192" cy="943" r="9"/><circle cx="1158" cy="978" r="9"/>
<circle cx="1158" cy="1042" r="9"/><circle cx="1192" cy="1042" r="9"/><circle cx="1158" cy="1075" r="9"/><circle cx="1158" cy="1110" r="9"/><circle cx="1192" cy="1110" r="9"/><circle cx="1158" cy="1145" r="9"/><circle cx="1192" cy="1145" r="9"/><circle cx="1158" cy="1180" r="9"/><circle cx="1192" cy="1180" r="9"/><rect x="1149" y="1206" width="18" height="18"/><circle cx="1192" cy="1215" r="9"/>
<rect x="545" y="200" width="12" height="26"/><rect x="560" y="200" width="12" height="26"/><rect x="575" y="200" width="12" height="26"/><line x1="545" y1="213" x2="587" y2="213"/>
<rect x="590" y="377" width="12" height="24"/><rect x="605" y="377" width="12" height="24"/><rect x="620" y="377" width="12" height="24"/><line x1="590" y1="389" x2="632" y2="389"/>
<rect class="f" x="706" y="582" width="10" height="30"/><rect class="f" x="733" y="587" width="32" height="10"/>
<circle cx="283" cy="32" r="5"/><circle cx="326" cy="8" r="5"/><circle cx="326" cy="42" r="5"/><circle cx="292" cy="107" r="5"/><circle cx="407" cy="53" r="5"/><circle cx="463" cy="57" r="5"/><circle cx="410" cy="93" r="5"/><circle cx="458" cy="98" r="5"/><circle cx="498" cy="155" r="5"/><circle cx="485" cy="197" r="5"/><circle cx="425" cy="210" r="5"/><circle cx="578" cy="118" r="5"/><circle cx="590" cy="150" r="5"/><circle cx="615" cy="170" r="5"/><circle cx="657" cy="170" r="5"/><circle cx="646" cy="202" r="5"/><circle cx="724" cy="60" r="5"/><circle cx="746" cy="107" r="5"/><circle cx="724" cy="128" r="5"/><circle cx="768" cy="155" r="5"/><circle cx="775" cy="192" r="5"/><circle cx="803" cy="213" r="5"/><circle cx="836" cy="225" r="5"/><circle cx="740" cy="215" r="5"/><circle cx="753" cy="252" r="5"/><circle cx="705" cy="260" r="5"/><circle cx="812" cy="70" r="5"/><circle cx="835" cy="95" r="5"/><circle cx="848" cy="60" r="5"/><circle cx="870" cy="92" r="5"/><circle cx="823" cy="127" r="5"/><circle cx="858" cy="127" r="5"/><circle cx="783" cy="22" r="5"/><circle cx="866" cy="22" r="5"/><circle cx="921" cy="38" r="5"/><circle cx="948" cy="75" r="5"/><circle cx="981" cy="80" r="5"/><circle cx="960" cy="107" r="5"/><circle cx="1021" cy="113" r="5"/><circle cx="978" cy="143" r="5"/><circle cx="1003" cy="170" r="5"/><circle cx="965" cy="177" r="5"/><circle cx="1037" cy="147" r="5"/><circle cx="1079" cy="165" r="5"/><circle cx="1103" cy="148" r="5"/><circle cx="1133" cy="170" r="5"/><circle cx="1111" cy="118" r="5"/><circle cx="1058" cy="67" r="5"/><circle cx="1090" cy="15" r="5"/><circle cx="1127" cy="17" r="5"/><circle cx="1123" cy="55" r="5"/><circle cx="1083" cy="205" r="5"/><circle cx="1120" cy="212" r="5"/><circle cx="1173" cy="307" r="5"/><circle cx="967" cy="318" r="5"/>
<circle cx="423" cy="300" r="5"/><circle cx="470" cy="327" r="5"/><circle cx="489" cy="356" r="5"/><circle cx="410" cy="345" r="5"/><circle cx="667" cy="310" r="5"/><circle cx="669" cy="339" r="5"/><circle cx="669" cy="367" r="5"/><circle cx="717" cy="385" r="5"/><circle cx="733" cy="417" r="5"/><circle cx="771" cy="418" r="5"/><circle cx="758" cy="327" r="5"/><circle cx="790" cy="329" r="5"/><circle cx="819" cy="329" r="5"/><circle cx="856" cy="318" r="5"/><circle cx="889" cy="328" r="5"/><circle cx="918" cy="285" r="5"/><circle cx="883" cy="293" r="5"/><circle cx="831" cy="288" r="5"/><circle cx="916" cy="344" r="5"/><circle cx="896" cy="378" r="5"/><circle cx="853" cy="407" r="5"/><circle cx="900" cy="413" r="5"/><circle cx="869" cy="434" r="5"/><circle cx="893" cy="459" r="5"/><circle cx="854" cy="363" r="5"/><circle cx="813" cy="360" r="5"/><circle cx="813" cy="386" r="5"/><circle cx="767" cy="361" r="5"/><circle cx="795" cy="428" r="5"/><circle cx="821" cy="423" r="5"/><circle cx="822" cy="451" r="5"/><circle cx="796" cy="466" r="5"/><circle cx="770" cy="506" r="5"/><circle cx="793" cy="494" r="5"/><circle cx="824" cy="480" r="5"/><circle cx="843" cy="503" r="5"/><circle cx="748" cy="476" r="5"/><circle cx="719" cy="489" r="5"/><circle cx="738" cy="449" r="5"/><circle cx="706" cy="451" r="5"/><circle cx="693" cy="473" r="5"/><circle cx="697" cy="497" r="5"/><circle cx="687" cy="518" r="5"/><circle cx="646" cy="468" r="5"/><circle cx="637" cy="432" r="5"/><circle cx="616" cy="450" r="5"/><circle cx="640" cy="496" r="5"/><circle cx="625" cy="512" r="5"/><circle cx="582" cy="460" r="5"/><circle cx="573" cy="500" r="5"/><circle cx="543" cy="455" r="5"/><circle cx="555" cy="417" r="5"/><circle cx="560" cy="383" r="5"/><circle cx="545" cy="495" r="5"/><circle cx="506" cy="470" r="5"/><circle cx="475" cy="395" r="5"/><circle cx="484" cy="432" r="5"/><circle cx="472" cy="472" r="5"/><circle cx="470" cy="497" r="5"/><circle cx="447" cy="485" r="5"/><circle cx="434" cy="521" r="5"/><circle cx="465" cy="530" r="5"/><circle cx="430" cy="438" r="5"/><circle cx="416" cy="404" r="5"/><circle cx="362" cy="408" r="5"/><circle cx="326" cy="407" r="5"/><circle cx="292" cy="400" r="5"/><circle cx="302" cy="433" r="5"/><circle cx="349" cy="438" r="5"/><circle cx="286" cy="473" r="5"/><circle cx="315" cy="465" r="5"/><circle cx="271" cy="506" r="5"/><circle cx="288" cy="585" r="5"/>
<circle cx="644" cy="552" r="5"/><circle cx="621" cy="572" r="5"/><circle cx="665" cy="585" r="5"/><circle cx="793" cy="566" r="5"/><circle cx="819" cy="566" r="5"/><circle cx="849" cy="566" r="5"/><circle cx="878" cy="557" r="5"/><circle cx="931" cy="570" r="5"/><circle cx="969" cy="561" r="5"/><circle cx="965" cy="515" r="5"/><circle cx="945" cy="601" r="5"/><circle cx="914" cy="629" r="5"/><circle cx="876" cy="645" r="5"/><circle cx="832" cy="645" r="5"/><circle cx="866" cy="617" r="5"/><circle cx="841" cy="591" r="5"/><circle cx="818" cy="600" r="5"/><circle cx="815" cy="625" r="5"/><circle cx="734" cy="663" r="5"/><circle cx="821" cy="684" r="5"/><circle cx="846" cy="695" r="5"/><circle cx="846" cy="738" r="5"/><circle cx="861" cy="770" r="5"/><circle cx="815" cy="797" r="5"/><circle cx="804" cy="757" r="5"/><circle cx="738" cy="757" r="5"/><circle cx="681" cy="795" r="5"/><circle cx="684" cy="716" r="5"/><circle cx="657" cy="738" r="5"/><circle cx="594" cy="715" r="5"/><circle cx="619" cy="689" r="5"/><circle cx="562" cy="681" r="5"/><circle cx="572" cy="735" r="5"/><circle cx="541" cy="795" r="5"/><circle cx="568" cy="795" r="5"/><circle cx="613" cy="795" r="5"/><circle cx="380" cy="616" r="5"/><circle cx="339" cy="638" r="5"/><circle cx="387" cy="662" r="5"/><circle cx="431" cy="651" r="5"/><circle cx="411" cy="685" r="5"/><circle cx="440" cy="688" r="5"/><circle cx="395" cy="707" r="5"/><circle cx="1058" cy="629" r="5"/><circle cx="1118" cy="654" r="5"/><circle cx="1133" cy="612" r="5"/><circle cx="921" cy="730" r="5"/><circle cx="965" cy="732" r="5"/><circle cx="996" cy="725" r="5"/><circle cx="923" cy="786" r="5"/><circle cx="1128" cy="812" r="5"/>
<circle cx="360" cy="815" r="5"/><circle cx="359" cy="842" r="5"/><circle cx="470" cy="832" r="5"/><circle cx="500" cy="812" r="5"/><circle cx="530" cy="812" r="5"/><circle cx="527" cy="842" r="5"/><circle cx="555" cy="829" r="5"/><circle cx="449" cy="860" r="5"/><circle cx="488" cy="858" r="5"/><circle cx="525" cy="870" r="5"/><circle cx="495" cy="898" r="5"/><circle cx="528" cy="895" r="5"/><circle cx="479" cy="940" r="5"/><circle cx="519" cy="943" r="5"/><circle cx="603" cy="917" r="5"/><circle cx="628" cy="898" r="5"/><circle cx="605" cy="945" r="5"/><circle cx="515" cy="985" r="5"/><circle cx="530" cy="1010" r="5"/><circle cx="554" cy="997" r="5"/><circle cx="566" cy="1033" r="5"/><circle cx="636" cy="993" r="5"/><circle cx="613" cy="1022" r="5"/><circle cx="625" cy="1047" r="5"/><circle cx="667" cy="1001" r="5"/><circle cx="697" cy="897" r="5"/><circle cx="719" cy="835" r="5"/><circle cx="740" cy="853" r="5"/><circle cx="765" cy="832" r="5"/><circle cx="780" cy="846" r="5"/><circle cx="812" cy="830" r="5"/><circle cx="842" cy="843" r="5"/><circle cx="826" cy="856" r="5"/><circle cx="836" cy="874" r="5"/><circle cx="868" cy="879" r="5"/><circle cx="884" cy="913" r="5"/><circle cx="912" cy="913" r="5"/><circle cx="920" cy="887" r="5"/><circle cx="827" cy="910" r="5"/><circle cx="851" cy="917" r="5"/><circle cx="765" cy="880" r="5"/><circle cx="797" cy="883" r="5"/><circle cx="720" cy="913" r="5"/><circle cx="749" cy="908" r="5"/><circle cx="762" cy="946" r="5"/><circle cx="811" cy="944" r="5"/><circle cx="863" cy="953" r="5"/><circle cx="936" cy="948" r="5"/><circle cx="910" cy="846" r="5"/><circle cx="939" cy="840" r="5"/><circle cx="975" cy="856" r="5"/><circle cx="1005" cy="923" r="5"/><circle cx="1037" cy="963" r="5"/><circle cx="1099" cy="987" r="5"/><circle cx="759" cy="977" r="5"/><circle cx="806" cy="977" r="5"/><circle cx="727" cy="1006" r="5"/><circle cx="765" cy="1006" r="5"/><circle cx="798" cy="1008" r="5"/><circle cx="723" cy="1043" r="5"/><circle cx="748" cy="1038" r="5"/><circle cx="686" cy="1071" r="5"/><circle cx="675" cy="1097" r="5"/><circle cx="655" cy="1128" r="5"/><circle cx="643" cy="1162" r="5"/><circle cx="716" cy="1121" r="5"/><circle cx="538" cy="1094" r="5"/><circle cx="873" cy="1043" r="5"/><circle cx="946" cy="1045" r="5"/><circle cx="987" cy="1080" r="5"/><circle cx="992" cy="1111" r="5"/><circle cx="838" cy="1105" r="5"/><circle cx="918" cy="1101" r="5"/><circle cx="849" cy="1145" r="5"/><circle cx="936" cy="1155" r="5"/><circle cx="973" cy="1142" r="5"/><circle cx="994" cy="1162" r="5"/><circle cx="1037" cy="1157" r="5"/><circle cx="910" cy="1192" r="5"/><circle cx="825" cy="1187" r="5"/><circle cx="849" cy="1203" r="5"/><circle cx="1121" cy="1052" r="5"/><circle cx="1070" cy="1208" r="5"/><circle cx="1088" cy="1237" r="5"/>
<circle cx="283" cy="1145" r="5"/><circle cx="330" cy="1058" r="5"/><circle cx="357" cy="1082" r="5"/><circle cx="386" cy="1062" r="5"/><circle cx="390" cy="1101" r="5"/><circle cx="330" cy="1098" r="5"/><circle cx="400" cy="1032" r="5"/><circle cx="487" cy="1145" r="5"/><circle cx="517" cy="1145" r="5"/><circle cx="525" cy="1172" r="5"/><circle cx="497" cy="1195" r="5"/><circle cx="497" cy="1215" r="5"/><circle cx="420" cy="1235" r="5"/><circle cx="517" cy="1235" r="5"/><circle cx="566" cy="1252" r="5"/><circle cx="617" cy="1223" r="5"/><circle cx="630" cy="1252" r="5"/><circle cx="690" cy="1255" r="5"/><circle cx="730" cy="1252" r="5"/>
</g>

<!-- region x 640-780, y 380-780 -->
<g transform="translate(640,380) scale(0.33333)">
<circle cx="90" cy="112" r="17"/><circle cx="73" cy="608" r="8"/><rect x="65" y="634" width="16" height="16"/><circle cx="72" cy="855" r="12"/>
<circle cx="215" cy="18" r="5"/><circle cx="243" cy="30" r="5"/><circle cx="272" cy="25" r="5"/><circle cx="305" cy="8" r="5"/><circle cx="338" cy="8" r="5"/><circle cx="293" cy="57" r="5"/><circle cx="323" cy="38" r="5"/><circle cx="145" cy="85" r="5"/><circle cx="263" cy="96" r="5"/><circle cx="300" cy="107" r="5"/><circle cx="345" cy="120" r="5"/><circle cx="315" cy="146" r="5"/><circle cx="330" cy="167" r="5"/><circle cx="210" cy="160" r="5"/><circle cx="182" cy="173" r="5"/><circle cx="263" cy="170" r="5"/><circle cx="325" cy="208" r="5"/><circle cx="362" cy="206" r="5"/><circle cx="343" cy="244" r="5"/><circle cx="312" cy="263" r="5"/><circle cx="343" cy="278" r="5"/><circle cx="281" cy="290" r="5"/><circle cx="333" cy="316" r="5"/><circle cx="220" cy="330" r="5"/><circle cx="347" cy="347" r="5"/><circle cx="135" cy="344" r="5"/><circle cx="176" cy="376" r="5"/><circle cx="224" cy="368" r="5"/><circle cx="338" cy="376" r="5"/><circle cx="117" cy="398" r="5"/><circle cx="72" cy="407" r="5"/><circle cx="205" cy="407" r="5"/><circle cx="255" cy="391" r="5"/><circle cx="288" cy="407" r="5"/><circle cx="326" cy="420" r="5"/><circle cx="353" cy="408" r="5"/><circle cx="155" cy="437" r="5"/><circle cx="131" cy="461" r="5"/><circle cx="162" cy="467" r="5"/><circle cx="135" cy="493" r="5"/><circle cx="182" cy="488" r="5"/><circle cx="357" cy="455" r="5"/><circle cx="257" cy="518" r="5"/><circle cx="65" cy="577" r="5"/><circle cx="45" cy="610" r="5"/><circle cx="105" cy="665" r="5"/><circle cx="182" cy="630" r="5"/><circle cx="194" cy="656" r="5"/><circle cx="330" cy="623" r="5"/><circle cx="347" cy="656" r="5"/><circle cx="320" cy="677" r="5"/><circle cx="345" cy="703" r="5"/><circle cx="307" cy="714" r="5"/><circle cx="342" cy="731" r="5"/><circle cx="176" cy="766" r="5"/><circle cx="205" cy="787" r="5"/><circle cx="306" cy="800" r="5"/><circle cx="330" cy="788" r="5"/><circle cx="178" cy="836" r="5"/><circle cx="234" cy="835" r="5"/><circle cx="260" cy="857" r="5"/><circle cx="140" cy="870" r="5"/><circle cx="189" cy="866" r="5"/><circle cx="170" cy="890" r="5"/><circle cx="372" cy="878" r="5"/><circle cx="268" cy="902" r="5"/><circle cx="292" cy="916" r="5"/><circle cx="300" cy="983" r="5"/><circle cx="350" cy="967" r="5"/><circle cx="377" cy="987" r="5"/><circle cx="390" cy="962" r="5"/><circle cx="416" cy="995" r="5"/><circle cx="240" cy="1062" r="5"/><circle cx="260" cy="1078" r="5"/><circle cx="320" cy="1092" r="5"/><circle cx="357" cy="1075" r="5"/><circle cx="385" cy="1062" r="5"/><circle cx="338" cy="1130" r="5"/><circle cx="372" cy="1127" r="5"/><circle cx="416" cy="1112" r="5"/><circle cx="13" cy="402" r="5"/><circle cx="12" cy="513" r="5"/><circle cx="33" cy="563" r="5"/>
</g>
<g>
<circle cx="770" cy="300" r="1.7"/><circle cx="760" cy="340" r="1.7"/><circle cx="690" cy="300" r="1.7"/><circle cx="708" cy="315" r="1.7"/><circle cx="675" cy="318" r="1.7"/><circle cx="668" cy="332" r="1.7"/><circle cx="700" cy="352" r="1.7"/><circle cx="728" cy="355" r="1.7"/>
<circle cx="128" cy="436" r="1.7"/><circle cx="110" cy="431" r="1.7"/><circle cx="96" cy="470" r="1.7"/><circle cx="86" cy="505" r="1.7"/>
</g>

<!-- ZOOM 9: left column -->
<g transform="translate(55,330) scale(0.33333)">
<circle cx="78" cy="22" r="8"/><rect x="70" y="49" width="16" height="16"/>
<rect x="320" y="19" width="27" height="27"/><circle cx="390" cy="32" r="13"/>
<circle cx="210" cy="432" r="10"/><rect x="200" y="488" width="20" height="20"/>
<circle cx="430" cy="530" r="8"/><rect x="454" y="522" width="16" height="16"/>
<circle cx="460" cy="628" r="18"/><circle cx="373" cy="705" r="20"/>
<rect x="135" y="845" width="100" height="293"/><rect x="217" y="845" width="18" height="18"/><rect x="217" y="1120" width="18" height="18"/>
<line x1="190" y1="960" x2="190" y2="1020" stroke-dasharray="3,3"/>
<circle cx="78" cy="1212" r="9"/><circle cx="78" cy="1242" r="9"/><circle cx="110" cy="1242" r="9"/><circle cx="145" cy="1242" r="9"/><rect x="178" y="1233" width="18" height="18"/>
<g transform="rotate(-40 405 640)"><rect x="385" y="628" width="40" height="24"/><line x1="395" y1="628" x2="395" y2="652"/><line x1="405" y1="628" x2="405" y2="652"/><line x1="415" y1="628" x2="415" y2="652"/></g>
<circle cx="447" cy="60" r="5"/><circle cx="432" cy="97" r="5"/><circle cx="470" cy="110" r="5"/><circle cx="472" cy="80" r="5"/><circle cx="190" cy="97" r="5"/><circle cx="300" cy="88" r="5"/><circle cx="283" cy="113" r="5"/><circle cx="345" cy="110" r="5"/><circle cx="365" cy="147" r="5"/><circle cx="390" cy="113" r="5"/><circle cx="400" cy="140" r="5"/><circle cx="270" cy="137" r="5"/><circle cx="307" cy="160" r="5"/><circle cx="265" cy="177" r="5"/><circle cx="293" cy="193" r="5"/><circle cx="318" cy="187" r="5"/><circle cx="343" cy="192" r="5"/><circle cx="367" cy="185" r="5"/><circle cx="400" cy="197" r="5"/><circle cx="422" cy="218" r="5"/><circle cx="458" cy="233" r="5"/><circle cx="470" cy="205" r="5"/><circle cx="262" cy="215" r="5"/><circle cx="293" cy="223" r="5"/><circle cx="295" cy="250" r="5"/><circle cx="392" cy="237" r="5"/><circle cx="405" cy="270" r="5"/><circle cx="430" cy="260" r="5"/><circle cx="470" cy="267" r="5"/><circle cx="472" cy="295" r="5"/><circle cx="176" cy="253" r="5"/><circle cx="157" cy="295" r="5"/><circle cx="165" cy="328" r="5"/><circle cx="232" cy="278" r="5"/><circle cx="262" cy="268" r="5"/><circle cx="292" cy="273" r="5"/><circle cx="232" cy="310" r="5"/><circle cx="265" cy="296" r="5"/><circle cx="305" cy="297" r="5"/><circle cx="335" cy="287" r="5"/><circle cx="360" cy="304" r="5"/><circle cx="383" cy="285" r="5"/><circle cx="415" cy="296" r="5"/><circle cx="262" cy="322" r="5"/><circle cx="287" cy="318" r="5"/><circle cx="297" cy="335" r="5"/><circle cx="322" cy="315" r="5"/><circle cx="345" cy="330" r="5"/><circle cx="387" cy="317" r="5"/><circle cx="465" cy="350" r="5"/><circle cx="430" cy="370" r="5"/><circle cx="229" cy="375" r="5"/><circle cx="125" cy="418" r="5"/><circle cx="93" cy="445" r="5"/><circle cx="58" cy="520" r="5"/><circle cx="263" cy="493" r="5"/><circle cx="305" cy="505" r="5"/><circle cx="355" cy="510" r="5"/><circle cx="255" cy="527" r="5"/><circle cx="285" cy="533" r="5"/><circle cx="327" cy="530" r="5"/><circle cx="362" cy="535" r="5"/><circle cx="243" cy="557" r="5"/><circle cx="308" cy="562" r="5"/><circle cx="302" cy="598" r="5"/><circle cx="355" cy="608" r="5"/><circle cx="377" cy="621" r="5"/><circle cx="75" cy="730" r="5"/><circle cx="60" cy="772" r="5"/><circle cx="375" cy="865" r="5"/><circle cx="295" cy="935" r="5"/><circle cx="293" cy="963" r="5"/><circle cx="285" cy="995" r="5"/><circle cx="260" cy="1023" r="5"/><circle cx="288" cy="1045" r="5"/><circle cx="305" cy="1068" r="5"/><circle cx="265" cy="1088" r="5"/><circle cx="323" cy="1100" r="5"/><circle cx="95" cy="985" r="5"/><circle cx="93" cy="1040" r="5"/><circle cx="120" cy="1043" r="5"/><circle cx="110" cy="1078" r="5"/><circle cx="68" cy="1100" r="5"/><circle cx="101" cy="1106" r="5"/><circle cx="125" cy="1123" r="5"/><circle cx="282" cy="1195" r="5"/><circle cx="150" cy="1300" r="5"/>
</g>

<!-- ZOOM 8: bottom-right -->
<g transform="translate(760,790) scale(0.33333)">
<circle cx="110" cy="58" r="6"/><circle cx="140" cy="45" r="6"/><rect x="166" y="52" width="12" height="12"/><circle cx="185" cy="90" r="6"/><circle cx="172" cy="123" r="6"/><circle cx="140" cy="135" r="6"/><circle cx="108" cy="123" r="6"/><circle cx="95" cy="90" r="6"/>
<circle cx="1018" cy="58" r="6"/><rect x="1044" y="39" width="12" height="12"/><rect x="1074" y="52" width="12" height="12"/><circle cx="1095" cy="90" r="6"/><circle cx="1080" cy="123" r="6"/><circle cx="1050" cy="133" r="6"/><rect x="1012" y="117" width="12" height="12"/><circle cx="1005" cy="90" r="6"/>
<circle cx="330" cy="35" r="9"/><circle cx="370" cy="35" r="9"/><rect x="321" y="61" width="18" height="18"/><rect x="361" y="61" width="18" height="18"/><circle cx="910" cy="12" r="9"/><rect x="901" y="38" width="18" height="18"/>
<rect x="491" y="148" width="18" height="18"/><circle cx="500" cy="190" r="9"/><rect x="491" y="216" width="18" height="18"/>
<rect x="386" y="316" width="18" height="18"/><circle cx="430" cy="325" r="9"/><rect x="456" y="316" width="18" height="18"/>
<circle cx="740" cy="120" r="12"/><circle cx="865" cy="120" r="12"/>
<circle cx="752" cy="158" r="7"/><circle cx="733" cy="167" r="7"/><circle cx="733" cy="195" r="7"/><circle cx="752" cy="210" r="7"/><circle cx="733" cy="222" r="7"/><circle cx="733" cy="248" r="7"/><rect x="745" y="255" width="14" height="14"/><circle cx="752" cy="297" r="13"/>
<circle cx="877" cy="158" r="7"/><circle cx="858" cy="167" r="7"/><circle cx="858" cy="195" r="7"/><rect x="870" y="203" width="14" height="14"/><circle cx="858" cy="222" r="7"/><circle cx="858" cy="248" r="7"/><rect x="870" y="255" width="14" height="14"/><circle cx="878" cy="297" r="13"/>
<circle cx="740" cy="377" r="12"/><circle cx="865" cy="377" r="12"/>
<rect x="766" y="406" width="14" height="14"/><circle cx="752" cy="432" r="7"/><circle cx="752" cy="450" r="7"/><circle cx="773" cy="467" r="8"/><rect x="745" y="478" width="14" height="14"/><circle cx="752" cy="500" r="7"/><rect x="766" y="511" width="14" height="14"/><circle cx="752" cy="552" r="13"/>
<rect x="893" y="406" width="14" height="14"/><circle cx="878" cy="432" r="7"/><circle cx="878" cy="450" r="7"/><circle cx="900" cy="467" r="8"/><rect x="871" y="478" width="14" height="14"/><circle cx="878" cy="500" r="7"/><rect x="893" y="511" width="14" height="14"/><circle cx="878" cy="552" r="13"/>
<circle cx="1095" cy="210" r="7"/><circle cx="1125" cy="210" r="7"/><circle cx="1095" cy="237" r="7"/><circle cx="1125" cy="237" r="7"/><circle cx="1095" cy="263" r="7"/><circle cx="1125" cy="263" r="7"/><rect x="1088" y="285" width="14" height="14"/><circle cx="1125" cy="292" r="7"/><circle cx="1095" cy="320" r="7"/><circle cx="1125" cy="320" r="7"/><circle cx="1095" cy="347" r="7"/><circle cx="1125" cy="347" r="7"/><circle cx="1095" cy="375" r="7"/><circle cx="1125" cy="375" r="7"/><circle cx="1095" cy="402" r="7"/><circle cx="1125" cy="402" r="7"/><circle cx="1095" cy="430" r="7"/><circle cx="1125" cy="430" r="7"/><rect x="1117" y="449" width="16" height="16"/>
<rect class="f" x="1057" y="390" width="23" height="107"/><rect class="f" x="1057" y="475" width="80" height="22"/>
<circle cx="1118" cy="557" r="9"/><rect x="1146" y="548" width="18" height="18"/><circle cx="1118" cy="595" r="9"/><rect x="1146" y="586" width="18" height="18"/><circle cx="1118" cy="630" r="9"/><circle cx="1155" cy="630" r="9"/><circle cx="1118" cy="665" r="9"/><circle cx="1155" cy="665" r="9"/><circle cx="1118" cy="698" r="9"/>
<circle cx="1080" cy="680" r="17"/>
<circle cx="960" cy="538" r="9"/><rect x="984" y="529" width="18" height="18"/>
<circle cx="125" cy="590" r="9"/><circle cx="160" cy="590" r="9"/><rect x="186" y="581" width="18" height="18"/>
<circle cx="310" cy="618" r="11"/><circle cx="655" cy="618" r="14"/><circle cx="70" cy="680" r="22"/><rect x="-9" y="596" width="18" height="20"/>
<circle cx="455" cy="5" r="5"/><circle cx="455" cy="22" r="5"/><circle cx="507" cy="22" r="5"/><circle cx="538" cy="38" r="5"/><circle cx="570" cy="20" r="5"/><circle cx="630" cy="30" r="5"/><circle cx="670" cy="22" r="5"/><circle cx="648" cy="68" r="5"/><circle cx="680" cy="85" r="5"/><circle cx="843" cy="38" r="5"/><circle cx="562" cy="135" r="5"/><circle cx="618" cy="145" r="5"/><circle cx="570" cy="175" r="5"/><circle cx="627" cy="180" r="5"/><circle cx="605" cy="237" r="5"/><circle cx="527" cy="262" r="5"/><circle cx="517" cy="293" r="5"/><circle cx="548" cy="312" r="5"/><circle cx="610" cy="293" r="5"/><circle cx="537" cy="345" r="5"/><circle cx="578" cy="380" r="5"/><circle cx="551" cy="422" r="5"/><circle cx="645" cy="448" r="5"/><circle cx="625" cy="498" r="5"/><circle cx="680" cy="518" r="5"/><circle cx="406" cy="520" r="5"/><circle cx="432" cy="528" r="5"/><circle cx="500" cy="535" r="5"/><circle cx="445" cy="355" r="5"/><circle cx="330" cy="335" r="5"/><circle cx="326" cy="362" r="5"/><circle cx="322" cy="390" r="5"/><circle cx="270" cy="345" r="5"/><circle cx="242" cy="365" r="5"/><circle cx="245" cy="400" r="5"/><circle cx="268" cy="407" r="5"/><circle cx="220" cy="348" r="5"/><circle cx="218" cy="382" r="5"/><circle cx="172" cy="293" r="5"/><circle cx="140" cy="382" r="5"/><circle cx="185" cy="435" r="5"/><circle cx="96" cy="457" r="5"/><circle cx="130" cy="462" r="5"/><circle cx="148" cy="483" r="5"/><circle cx="158" cy="512" r="5"/><circle cx="166" cy="545" r="5"/><circle cx="24" cy="503" r="5"/><circle cx="58" cy="495" r="5"/><circle cx="68" cy="533" r="5"/><circle cx="118" cy="635" r="5"/><circle cx="265" cy="605" r="5"/><circle cx="248" cy="637" r="5"/><circle cx="332" cy="653" r="5"/><circle cx="470" cy="610" r="5"/><circle cx="527" cy="607" r="5"/><circle cx="491" cy="628" r="5"/><circle cx="545" cy="638" r="5"/><circle cx="443" cy="637" r="5"/><circle cx="510" cy="675" r="5"/><circle cx="690" cy="655" r="5"/><circle cx="728" cy="640" r="5"/><circle cx="762" cy="625" r="5"/><circle cx="808" cy="578" r="5"/><circle cx="813" cy="615" r="5"/><circle cx="777" cy="667" r="5"/><circle cx="803" cy="673" r="5"/><circle cx="858" cy="675" r="5"/><circle cx="963" cy="165" r="5"/><circle cx="975" cy="192" r="5"/><circle cx="995" cy="247" r="5"/><circle cx="975" cy="270" r="5"/><circle cx="1007" cy="280" r="5"/><circle cx="975" cy="290" r="5"/><circle cx="975" cy="305" r="5"/><circle cx="975" cy="320" r="5"/><circle cx="975" cy="333" r="5"/><circle cx="958" cy="362" r="5"/><circle cx="968" cy="408" r="5"/><circle cx="930" cy="422" r="5"/><circle cx="835" cy="420" r="5"/><circle cx="847" cy="400" r="5"/><circle cx="848" cy="462" r="5"/><circle cx="850" cy="483" r="5"/><circle cx="707" cy="435" r="5"/><circle cx="712" cy="470" r="5"/><circle cx="717" cy="488" r="5"/><circle cx="1005" cy="472" r="5"/><circle cx="1050" cy="562" r="5"/><circle cx="1078" cy="582" r="5"/><circle cx="1040" cy="598" r="5"/><circle cx="1075" cy="618" r="5"/><circle cx="948" cy="635" r="5"/><circle cx="970" cy="622" r="5"/><circle cx="1020" cy="640" r="5"/><circle cx="985" cy="700" r="5"/><circle cx="1030" cy="10" r="5"/>
</g>
<text x="1121.7" y="1018" font-size="4" text-anchor="middle">102</text>

<!-- ZOOM 5: bottom-left -->
<g transform="translate(50,770) scale(0.4464,0.33333)">
<circle cx="52" cy="118" r="6"/><rect x="72" y="97" width="12" height="12"/><rect x="94" y="112" width="12" height="12"/><circle cx="108" cy="150" r="6"/><circle cx="100" cy="182" r="6"/><circle cx="75" cy="195" r="6"/><circle cx="50" cy="182" r="6"/><circle cx="40" cy="150" r="6"/>
<ellipse cx="170" cy="62" rx="12" ry="18"/><ellipse cx="170" cy="178" rx="12" ry="18"/><ellipse cx="170" cy="340" rx="12" ry="18"/><ellipse cx="170" cy="455" rx="12" ry="18"/>
<ellipse cx="1585" cy="62" rx="12" ry="18"/><ellipse cx="1585" cy="178" rx="12" ry="18"/><ellipse cx="1585" cy="340" rx="12" ry="18"/><ellipse cx="1585" cy="455" rx="12" ry="18"/>
<circle cx="100" cy="558" r="9"/><rect x="117" y="549" width="16" height="18"/>
<ellipse cx="578" cy="558" rx="12" ry="18"/><ellipse cx="645" cy="645" rx="10" ry="15"/>
<circle cx="720" cy="585" r="8"/><rect x="712" y="612" width="16" height="16"/><circle cx="815" cy="585" r="8"/><rect x="807" y="612" width="16" height="16"/><circle cx="1415" cy="550" r="8"/><rect x="1407" y="577" width="16" height="16"/>
<circle cx="342" cy="730" r="8"/><rect x="370" y="722" width="16" height="16"/><circle cx="440" cy="730" r="8"/><rect x="468" y="722" width="16" height="16"/>
<ellipse cx="783" cy="730" rx="9" ry="13"/><ellipse cx="848" cy="730" rx="9" ry="13"/><circle cx="885" cy="730" r="7"/><rect x="907" y="722" width="16" height="16"/>
<ellipse cx="1115" cy="668" rx="10" ry="14"/><ellipse cx="1160" cy="668" rx="10" ry="14"/><ellipse cx="1205" cy="668" rx="10" ry="14"/><ellipse cx="1248" cy="668" rx="10" ry="14"/><ellipse cx="1292" cy="668" rx="10" ry="14"/><ellipse cx="1335" cy="668" rx="10" ry="14"/><ellipse cx="1378" cy="668" rx="10" ry="14"/><ellipse cx="1420" cy="668" rx="10" ry="14"/><ellipse cx="1463" cy="668" rx="10" ry="14"/><ellipse cx="1505" cy="668" rx="10" ry="14"/><ellipse cx="1550" cy="668" rx="10" ry="14"/>
<ellipse cx="1115" cy="745" rx="10" ry="14"/><ellipse cx="1160" cy="745" rx="10" ry="14"/><ellipse cx="1205" cy="745" rx="10" ry="14"/><ellipse cx="1248" cy="745" rx="10" ry="14"/><ellipse cx="1292" cy="745" rx="10" ry="14"/><ellipse cx="1335" cy="745" rx="10" ry="14"/><ellipse cx="1378" cy="745" rx="10" ry="14"/><ellipse cx="1420" cy="745" rx="10" ry="14"/><ellipse cx="1463" cy="745" rx="10" ry="14"/><ellipse cx="1505" cy="745" rx="10" ry="14"/><ellipse cx="1550" cy="745" rx="10" ry="14"/>
<ellipse cx="95" cy="712" rx="14" ry="18"/><ellipse cx="58" cy="752" rx="18" ry="26"/>
<circle cx="95" cy="268" r="5"/><circle cx="120" cy="250" r="5"/><circle cx="85" cy="318" r="5"/><circle cx="1018" cy="232" r="5"/><circle cx="403" cy="518" r="5"/><circle cx="1035" cy="527" r="5"/><circle cx="1048" cy="557" r="5"/><circle cx="1110" cy="535" r="5"/><circle cx="1027" cy="585" r="5"/><circle cx="1050" cy="600" r="5"/><circle cx="1085" cy="587" r="5"/><circle cx="965" cy="575" r="5"/><circle cx="1175" cy="555" r="5"/><circle cx="1237" cy="542" r="5"/><circle cx="1232" cy="593" r="5"/><circle cx="1290" cy="593" r="5"/><circle cx="1515" cy="557" r="5"/><circle cx="1545" cy="313" r="5"/><circle cx="175" cy="552" r="5"/><circle cx="328" cy="570" r="5"/><circle cx="352" cy="557" r="5"/><circle cx="385" cy="553" r="5"/><circle cx="230" cy="617" r="5"/><circle cx="248" cy="605" r="5"/><circle cx="443" cy="610" r="5"/><circle cx="172" cy="663" r="5"/><circle cx="207" cy="650" r="5"/><circle cx="218" cy="670" r="5"/><circle cx="240" cy="663" r="5"/><circle cx="230" cy="705" r="5"/><circle cx="275" cy="717" r="5"/><circle cx="300" cy="697" r="5"/><circle cx="175" cy="728" r="5"/><circle cx="990" cy="717" r="5"/><circle cx="1062" cy="720" r="5"/>
</g>
<text x="92.4" y="1009" font-size="4" text-anchor="middle">100</text>

<!-- TITLE BLOCK -->
<rect x="64" y="1068" width="296" height="59" stroke-width="2"/>
<line x1="64" y1="1092" x2="360" y2="1092" stroke-width="1.5"/>
<line x1="159" y1="1092" x2="159" y2="1127" stroke-width="2"/>
<line x1="293" y1="1092" x2="293" y2="1127" stroke-width="1.5"/>
<line x1="159" y1="1110" x2="360" y2="1110" stroke-width="1.5"/>
<line x1="127" y1="1092" x2="127" y2="1117" stroke-width="1.5"/>
<line x1="64" y1="1105" x2="159" y2="1105" stroke-width="1.5"/>
<line x1="64" y1="1117" x2="159" y2="1117" stroke-width="1.5"/>
<rect class="f" x="340" y="1071" width="16" height="19"/>
<rect x="343" y="1074" width="3" height="13" fill="#fff" stroke="none"/><rect x="350" y="1074" width="3" height="13" fill="#fff" stroke="none"/><rect x="343" y="1079" width="10" height="3" fill="#fff" stroke="none"/>
<g transform="translate(110.5,1079.5) scale(-1,1)"><text x="0" y="0" font-size="10" text-anchor="middle" textLength="90" lengthAdjust="spacingAndGlyphs">TEL:38200000943152</text></g>
<g transform="translate(110.5,1089.5) scale(-1,1)"><text x="0" y="0" font-size="10" text-anchor="middle" textLength="90" lengthAdjust="spacingAndGlyphs">FAX:38200000934054</text></g>
<g transform="translate(249.5,1089) scale(-1,1)"><text x="0" y="0" font-size="16" text-anchor="middle" textLength="178" lengthAdjust="spacingAndGlyphs">FOXCONN CPE LAYOUT CENTER</text></g>
<g transform="translate(95.5,1103) scale(-1,1)"><text x="0" y="0" font-size="10.5" text-anchor="middle" textLength="54" lengthAdjust="spacingAndGlyphs">01/04/2012</text></g>
<g transform="translate(143,1103) scale(-1,1)"><text x="0" y="0" font-size="10.5" text-anchor="middle" textLength="25" lengthAdjust="spacingAndGlyphs">DATE</text></g>
<g transform="translate(95.5,1115) scale(-1,1)"><text x="0" y="0" font-size="10.5" text-anchor="middle" textLength="12" lengthAdjust="spacingAndGlyphs">OF</text></g>
<g transform="translate(143,1115) scale(-1,1)"><text x="0" y="0" font-size="10.5" text-anchor="middle" textLength="27" lengthAdjust="spacingAndGlyphs">SHEET</text></g>
<g transform="translate(111,1126) scale(-1,1)"><text x="0" y="0" font-size="10" text-anchor="middle" textLength="74" lengthAdjust="spacingAndGlyphs">TOTAL 4 LAYERS</text></g>
<g transform="translate(226,1105) scale(-1,1)"><text x="0" y="0" font-size="9.5" text-anchor="middle" textLength="124" lengthAdjust="spacingAndGlyphs">CypressPoint&amp;PebbleBeach</text></g>
<text x="167" y="1124" font-size="13" textLength="46" lengthAdjust="spacingAndGlyphs">MASK_BOT</text>
<g transform="translate(326,1106) scale(-1,1)"><text x="0" y="0" font-size="13" text-anchor="middle" textLength="50" lengthAdjust="spacingAndGlyphs">PROJECT</text></g>
<g transform="translate(326,1124) scale(-1,1)"><text x="0" y="0" font-size="13" text-anchor="middle" textLength="60" lengthAdjust="spacingAndGlyphs">LAYER NAME</text></g>
</g>
</svg>
</body></html>
